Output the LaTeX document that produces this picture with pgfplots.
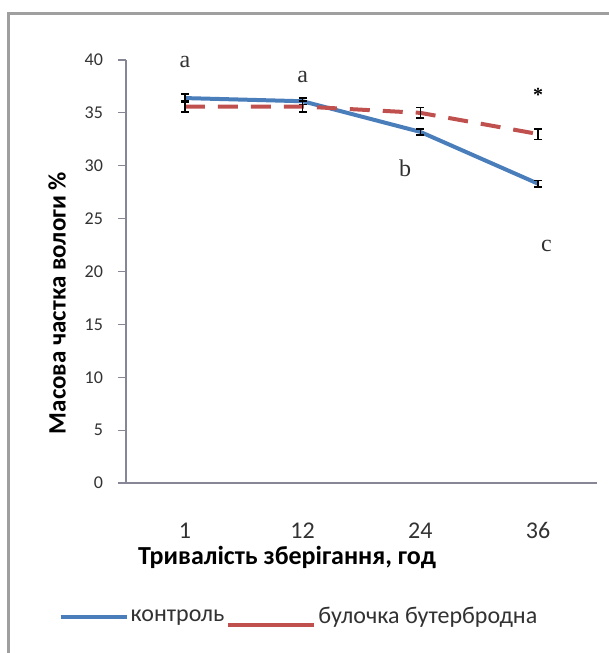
\documentclass[border=0pt]{standalone}
\usepackage{fontspec}
\setmainfont{Carlito}
\newfontfamily\serifann{Liberation Serif}
\usepackage{pgfplots}
\pgfplotsset{compat=1.18}
\definecolor{cblue}{RGB}{74,126,187}
\definecolor{cred}{RGB}{192,80,77}
\definecolor{axgray}{RGB}{134,134,150}
\definecolor{txt}{RGB}{50,50,50}
\begin{document}
\begin{tikzpicture}
\useasboundingbox (0,0) rectangle (304.5pt,326.5pt);
\draw[gray!75, line width=1.5pt] (4pt,0) -- (4pt,319.5pt) -- (304.5pt,319.5pt);
\begin{axis}[
  at={(63pt,85pt)}, anchor=south west,
  scale only axis, width=235.5pt, height=211.5pt,
  xmin=0.5, xmax=4.5, ymin=0, ymax=40,
  axis x line*=bottom, axis y line*=left,
  axis line style={axgray, -, line width=0.6pt},
  xtick={1,2,3,4}, xticklabels={1,12,24,36},
  xtick style={draw=none},
  ytick={0,5,...,40}, tick align=outside, ytick style={axgray, line width=0.6pt},
  major tick length=4pt,
  /pgf/number format/assume math mode=true,
  yticklabel style={font=\fontsize{9}{10}\selectfont, xshift=-4pt, text=txt},
  xticklabel style={font=\fontsize{12}{14}\selectfont, yshift=-12pt, text=txt, text height=8pt, text depth=0pt},
  xlabel={Тривалість зберігання, год},
  xlabel style={font=\bfseries\fontsize{13}{15}\selectfont, at={(rel axis cs:0.342,-0.175)}, anchor=center},
  ylabel={Масова частка вологи \%},
  ylabel style={font=\bfseries\fontsize{12.5}{15}\selectfont, at={(rel axis cs:-0.1465,0.4255)}, anchor=center},
  legend style={at={(rel axis cs:-0.144,-0.317)}, anchor=west, draw=none, fill=none,
    font=\fontsize{12}{14}\selectfont, text=txt, inner sep=0pt, nodes={inner sep=1pt}},
  legend columns=-1,
  clip=false,
]
\addplot[cblue, line width=2pt, no marks,
  legend image code/.code={\draw[cblue, line width=2pt, solid] (0pt,0pt) -- (33pt,0pt);},
  error bars/.cd, y dir=both, y explicit,
  error bar style={black, line width=0.8pt, solid},
  error mark options={black, line width=0.8pt, mark size=2pt, rotate=90}]
  coordinates {(1,36.4) +- (0,0.4) (2,36.1) +- (0,0.3) (3,33.2) +- (0,0.3) (4,28.3) +- (0,0.3)};
\addlegendentry{контроль}
\addplot[cred, line width=2pt, no marks, dash pattern=on 10pt off 6.5pt,
  legend image code/.code={\draw[cred, line width=2pt, solid] (0pt,-4pt) -- (43pt,-4pt);},
  error bars/.cd, y dir=both, y explicit,
  error bar style={black, line width=0.8pt, solid},
  error mark options={black, line width=0.8pt, mark size=2pt, rotate=90}]
  coordinates {(1,35.6) +- (0,0.5) (2,35.6) +- (0,0.5) (3,35.0) +- (0,0.5) (4,33.0) +- (0,0.5)};
\addlegendentry{булочка бутербродна}
\node[font=\serifann\fontsize{12}{14}\selectfont, text=txt] at (axis cs:1,39.8) {a};
\node[font=\serifann\fontsize{12}{14}\selectfont, text=txt] at (axis cs:2,38.4) {a};
\node[font=\serifann\fontsize{12}{14}\selectfont, text=txt] at (axis cs:2.87,29.8) {b};
\node[font=\serifann\fontsize{12}{14}\selectfont, text=txt] at (axis cs:4.07,22.4) {c};
\node[font=\serifann\bfseries\fontsize{10}{12}\selectfont] at (axis cs:4,36.7) {*};
\end{axis}
\end{tikzpicture}
\end{document}
